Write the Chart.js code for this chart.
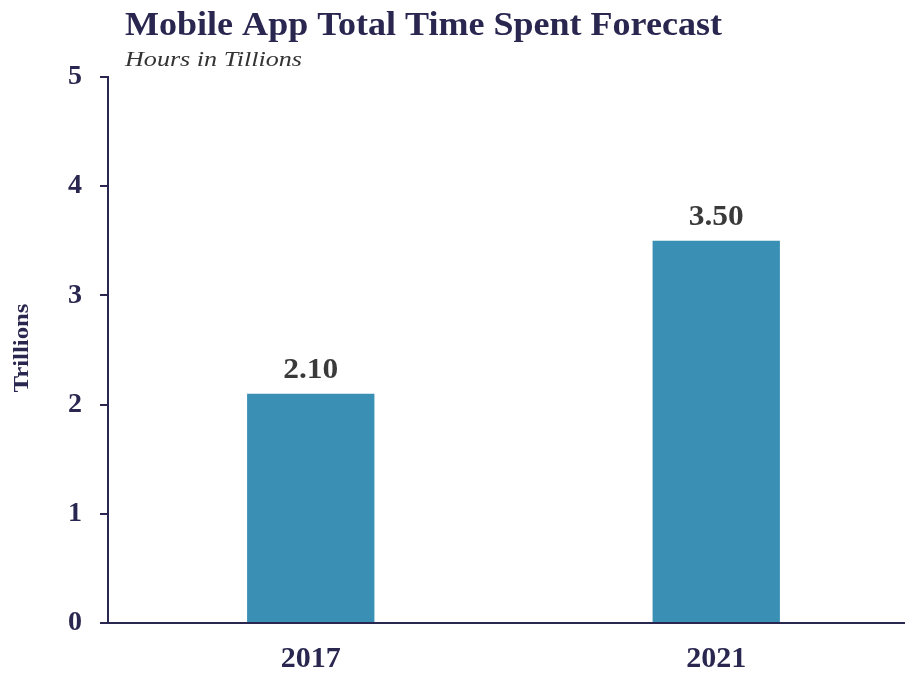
<!DOCTYPE html>
<html>
<head>
<meta charset="utf-8">
<script src="https://cdn.jsdelivr.net/npm/chart.js@4/dist/chart.umd.min.js"></script>
<style>
html,body{margin:0;padding:0;background:#fff;overflow:hidden;width:905px;height:675px;}
canvas{display:block;}
</style>
</head>
<body>
<canvas id="c" width="919" height="675"></canvas>
<script>
const categories = ['2017', '2021'];
const values = [2.10, 3.50];
const yTicks = [0, 1, 2, 3, 4, 5];
const titleText = 'Mobile App Total Time Spent Forecast';
const subtitleText = 'Hours in Tillions';
const yAxisTitle = 'Trillions';

const NAVY = '#29274f';
const SERIF = '"Liberation Serif", "Times New Roman", serif';

function stretchedText(ctx, text, x, y, targetWidth) {
  const w = ctx.measureText(text).width;
  const sx = targetWidth / w;
  ctx.save();
  ctx.translate(x, y);
  ctx.scale(sx, 1);
  ctx.fillText(text, 0, 0);
  ctx.restore();
}

const textPlugin = {
  id: 'textPlugin',
  afterDraw(chart) {
    const ctx = chart.ctx;
    ctx.save();
    ctx.textAlign = 'left';
    ctx.textBaseline = 'alphabetic';
    ctx.fillStyle = NAVY;
    ctx.font = 'bold 33px ' + SERIF;
    stretchedText(ctx, titleText, 125, 35, 597);
    ctx.fillStyle = '#333333';
    ctx.font = 'italic 22px ' + SERIF;
    stretchedText(ctx, subtitleText, 125, 66, 177);

    // y axis title
    ctx.save();
    ctx.translate(28, 348);
    ctx.rotate(-Math.PI / 2);
    ctx.fillStyle = NAVY;
    ctx.font = 'bold 21px ' + SERIF;
    ctx.textAlign = 'left';
    const tw = ctx.measureText(yAxisTitle).width;
    ctx.scale(89 / tw, 1);
    ctx.fillText(yAxisTitle, -tw / 2, 0);
    ctx.restore();

    // data labels
    const meta = chart.getDatasetMeta(0);
    ctx.textBaseline = 'alphabetic';
    ctx.fillStyle = '#3a3a3a';
    ctx.font = 'bold 29px ' + SERIF;
    meta.data.forEach((el, i) => {
      const t = values[i].toFixed(2);
      const w = ctx.measureText(t).width;
      const target = 55;
      ctx.save();
      ctx.translate(el.x - target / 2, el.y - 16);
      ctx.scale(target / w, 1);
      ctx.fillText(t, 0, 0);
      ctx.restore();
    });
    ctx.restore();
  }
};

new Chart(document.getElementById('c'), {
  type: 'bar',
  data: {
    labels: categories,
    datasets: [{
      data: values,
      backgroundColor: '#3a8fb5',
      borderWidth: 0,
      barPercentage: 0.314,
      categoryPercentage: 1
    }]
  },
  options: {
    responsive: false,
    animation: false,
    layout: { padding: { top: 77, right: 0, left: 0, bottom: 0 } },
    plugins: { legend: { display: false }, tooltip: { enabled: false } },
    scales: {
      x: {
        grid: { display: false, drawTicks: false },
        border: { display: true, color: NAVY, width: 2 },
        ticks: { color: NAVY, font: { family: SERIF, size: 30, weight: 'bold' }, padding: 18 },
        afterFit(s) { s.height = 52; }
      },
      y: {
        min: 0, max: 5,
        afterBuildTicks(s) { s.ticks = yTicks.map(v => ({ value: v })); },
        grid: { drawOnChartArea: false, drawTicks: true, tickLength: 8, color: NAVY, lineWidth: 2 },
        border: { display: true, color: NAVY, width: 2 },
        ticks: { color: NAVY, font: { family: SERIF, size: 28, weight: 'bold' }, padding: 18 },
        title: { display: false },
        afterFit(s) { s.width = 108; }
      }
    }
  },
  plugins: [textPlugin]
});
</script>
</body>
</html>
